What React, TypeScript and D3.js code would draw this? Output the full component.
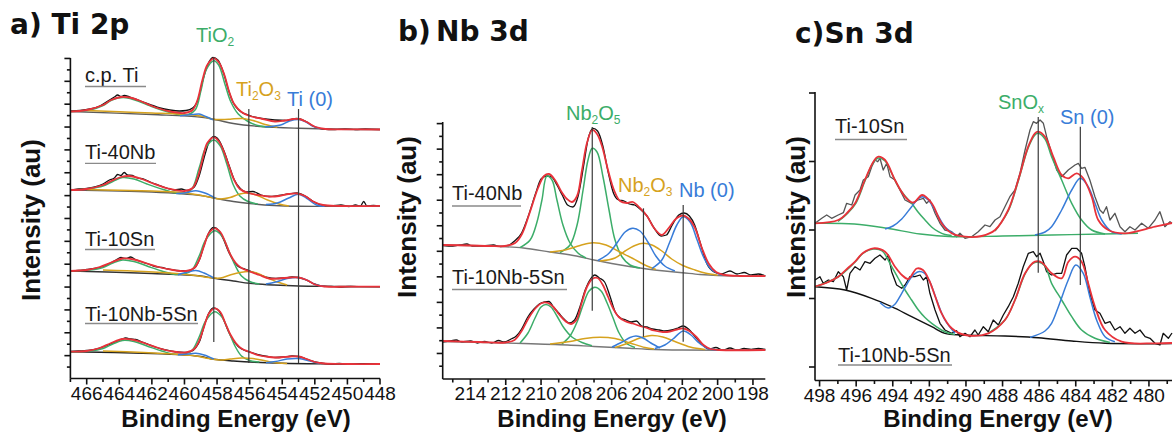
import React from "react";
import * as d3 from "d3";

type Pt = [number, number]; // [binding energy (eV), intensity (au)]

// ---------- a) Ti 2p ----------
const tiSamples = ["c.p. Ti", "Ti-40Nb", "Ti-10Sn", "Ti-10Nb-5Sn"];
const tiPeaks = [
  { name: "TiO_2", ev: 458.2, from: 36.5, to: 321 },
  { name: "Ti_2O_3", ev: 456.05, from: 15.5, to: 269.5 },
  { name: "Ti (0)", ev: 453.0, from: 15.5, to: 269.5 },
];
const tiTickLabels = [466, 464, 462, 460, 458, 456, 454, 452, 450, 448];

const tiCpRaw: Pt[] = [[467,267.5],[466.4,268],[465.8,269.5],[465.2,272.5],[464.7,277.5],[464.3,281.5],[464.1,283.5],[463.9,282],[463.7,283],[463.35,281.5],[462.7,277.5],[462.1,274],[461.5,270.5],[460.9,268.5],[460.3,267.5],[459.9,268],[459.5,270.5],[459.15,279.5],[458.85,299.5],[458.55,314.5],[458.25,321],[457.95,318.5],[457.6,305.5],[457.3,288.5],[457,275.5],[456.6,267.5],[456,263],[455.25,260],[454.45,258.5],[453.75,258],[453.1,260],[452.6,257.5],[452.05,252],[451.55,249.5],[450.75,249],[450.15,249.7],[449.5,249],[448.9,249.5],[448,249]];
const tiCpFit: Pt[] = [[467,267],[466,268.5],[465,273.5],[464.5,278.5],[463.9,281.5],[463.35,281],[462.7,277.5],[462,272.5],[461,267.5],[460,265.5],[459.5,268.5],[459.2,278.5],[458.9,298.5],[458.6,313.5],[458.2,320.2],[457.9,316.5],[457.55,303.5],[457.25,286.5],[456.95,274.5],[456.5,266.5],[456,262.5],[455.2,259.5],[454.45,257],[453.85,258],[453.3,259.5],[452.95,259.5],[452.5,256.5],[451.95,251.5],[451.35,249.5],[450.45,249.2],[448,249]];
const tiCpBg: Pt[] = [[467,267],[462,264],[459.05,261.5],[458,258.5],[457,255],[455.35,252],[453,250.2],[450.45,249.2],[448,249]];
const tiCpTiO2: Pt[] = [[467,267],[465.8,268.5],[465,273],[464.45,278.5],[463.75,281],[463.05,278.5],[462.25,273.5],[461.2,267.5],[459.97,263.3],[459.35,268.5],[458.98,288.5],[458.67,308.5],[458.2,317.8],[457.9,313.5],[457.5,293.5],[457.15,276.5],[456.7,264.5],[456.1,257],[455.5,253],[454.75,251.5]];
const tiCpTi2O3: Pt[] = [[466,268],[464,266.8],[462,265.5],[460,264],[459,262.5],[458.2,259.2],[457.7,259],[457.2,259.3],[456.45,260],[455.8,258],[455.05,254],[454.3,251.2]];
const tiCpTi0a: Pt[] = [[460.27,262.8],[459.5,264],[459.1,264.5],[458.7,262],[458.25,258.8]];
const tiCpTi0b: Pt[] = [[455.05,251.8],[454.1,253.5],[453.55,257.5],[453,259],[452.6,257],[452.15,252.5],[451.65,250]];

const tiNbRaw: Pt[] = [[467,188],[466.5,189.5],[466,190],[465.5,191.5],[465,194.5],[464.6,198.5],[464.3,200.5],[464.1,204],[463.9,203],[463.7,206],[463.5,203.5],[463.2,203],[462.9,200.5],[462.5,199.5],[462.1,196.5],[461.6,193.5],[461.1,190.5],[460.6,188.5],[460.2,189.5],[459.8,188],[459.4,191.5],[459.1,202.5],[458.8,220.5],[458.5,236],[458.2,242],[457.9,238.5],[457.55,226.5],[457.25,212.5],[456.95,199],[456.6,190.5],[456.2,186.5],[455.8,187],[455.3,183.5],[454.8,182],[454.2,183],[453.6,184.5],[453.1,185.5],[452.6,182.5],[452.1,177],[451.5,173],[451,172.5],[450.4,173.5],[449.9,172],[449.5,173.5],[449.2,172.5],[449,177],[448.8,172.5],[448.4,173],[448,172.5]];
const tiNbFit: Pt[] = [[467,188.5],[466,189.5],[465,193.5],[464.5,197.5],[463.9,201.5],[463.4,202.5],[462.7,200],[462,195.5],[461,190],[460,187.5],[459.5,190.5],[459.2,200.5],[458.9,218.5],[458.6,235.5],[458.2,241.2],[457.9,237.5],[457.55,225.5],[457.25,211.5],[456.95,198.5],[456.6,189.5],[456.1,185.5],[455.5,183.5],[454.8,182],[454.2,182.5],[453.6,184.5],[453.1,185],[452.6,182.5],[452.1,177],[451.5,173.5],[450.5,172.5],[448,172.7]];
const tiNbBg: Pt[] = [[467,188.5],[462,186.5],[459,183],[458.2,180.5],[457,177],[456,175],[454.5,173],[453,172.2],[450,172.2],[448,172.3]];
const tiNbTiO2: Pt[] = [[467,188.5],[465.8,190],[465,192.5],[464.4,197],[463.8,201],[463.1,199.5],[462.3,194.5],[461.3,189],[460.3,185],[459.6,188.5],[459.1,210.5],[458.7,230.5],[458.2,238.5],[457.8,232.5],[457.4,214.5],[457,193.5],[456.6,182.5],[456.1,177],[455.5,174.5]];
const tiNbTi2O3: Pt[] = [[466,189],[464,188.2],[462,187.5],[460.5,186.5],[459.3,184],[458.5,181.5],[457.8,179.5],[457.2,181],[456.6,184.5],[456.1,185.5],[455.6,183.5],[454.9,178.5],[454.2,174.5],[453.6,172.6]];
const tiNbTi0a: Pt[] = [[460.5,185],[459.9,185.8],[459.3,187.8],[458.7,185.2],[458.1,180.2]];
const tiNbTi0b: Pt[] = [[455,174],[454.3,175.5],[453.6,180.5],[453,184.2],[452.5,180.2],[451.9,173.5],[451.4,172.2]];

const tiSnRaw: Pt[] = [[467,107.5],[466.5,108],[466,109],[465.5,110],[465,112],[464.6,115],[464.2,118.5],[463.9,121],[463.6,120],[463.3,121.5],[463,119],[462.6,116.5],[462.2,114.5],[461.8,112],[461.4,111],[461,109.5],[460.5,108],[460,107.5],[459.6,108.5],[459.3,112],[459.05,120],[458.8,133],[458.5,146],[458.2,151],[457.9,148],[457.6,139],[457.3,127],[457,118],[456.7,112],[456.3,109.5],[455.9,107],[455.4,104],[454.9,101],[454.4,100],[453.9,100.5],[453.4,101.5],[453,101],[452.6,99],[452.1,95],[451.6,92.5],[451,92],[450.5,91.5],[449.8,92],[449,91.8],[448,91.8]];
const tiSnFit: Pt[] = [[467,107.5],[466,108.5],[465.2,111.5],[464.5,116],[463.8,120],[463.1,119],[462.4,115.5],[461.6,111.5],[460.7,108.5],[459.9,107.5],[459.4,110.5],[459.1,118.5],[458.8,132.5],[458.5,145.5],[458.15,150.2],[457.8,146.5],[457.5,136.5],[457.2,124.5],[456.85,115.5],[456.5,110.5],[456,107],[455.4,103.5],[454.8,100],[454.2,100],[453.5,101],[453,101],[452.5,98.5],[452,94],[451.4,92],[450,91.8],[448,91.8]];
const tiSnBg: Pt[] = [[467,107.5],[462,105],[459,102.5],[458.2,100.2],[457,97.5],[456,95.2],[454.5,93.5],[453,92.5],[450,92],[448,91.8]];
const tiSnTiO2: Pt[] = [[467,107.5],[465.8,108.5],[465,111],[464.4,115.5],[463.8,118.5],[463.1,117],[462.3,112.5],[461.4,107.5],[460.4,104],[459.6,107.5],[459.1,122.5],[458.7,138.5],[458.15,147.8],[457.7,142.5],[457.3,128.5],[456.9,113.5],[456.5,102.5],[456,97],[455.4,94.5]];
const tiSnTi2O3: Pt[] = [[465,108.5],[462.5,107],[460.5,105],[459.3,103],[458.5,101],[457.8,100.5],[457.2,103.5],[456.6,106],[456,107],[455.5,105],[454.9,100.5],[454.3,96.5],[453.7,93.5]];
const tiSnTi0a: Pt[] = [[460.4,103.8],[459.8,106.5],[459.3,108],[458.8,105.5],[458.2,100.5]];
const tiSnTi0b: Pt[] = [[455,94.5],[454.4,96.5],[453.7,100],[453,101],[452.5,98.5],[451.9,93.5],[451.4,92.1]];

const tiNbSnRaw: Pt[] = [[467,27],[466.5,27.5],[466,28],[465.5,29],[465,31.5],[464.6,34],[464.2,37],[463.9,39],[463.6,40.5],[463.3,39.5],[463,39],[462.6,36.5],[462.2,34],[461.8,31.5],[461.4,29.5],[461,28],[460.5,26.5],[460,26],[459.6,27],[459.3,31],[459.05,38],[458.8,52],[458.5,65.5],[458.2,70.5],[457.9,68],[457.6,59],[457.3,47],[457,38],[456.7,32],[456.3,28],[455.9,26],[455.4,23.5],[454.9,22],[454.4,21],[453.9,21.5],[453.4,22.5],[453,22],[452.6,20],[452.1,17],[451.6,15.5],[451,14.5],[450.5,15],[449.8,14.3],[449,14.8],[448,14.5]];
const tiNbSnFit: Pt[] = [[467,26.8],[466,27.5],[465.2,30.5],[464.5,35.5],[463.8,39.5],[463.1,38.5],[462.4,35],[461.6,30.5],[460.7,27],[459.9,26],[459.4,29.5],[459.1,37.5],[458.8,51.5],[458.5,65],[458.15,70.2],[457.8,66.5],[457.5,55.5],[457.2,44.5],[456.85,35.5],[456.5,30],[456,26.5],[455.4,23],[454.8,21.5],[454.2,21],[453.5,22],[453,22],[452.5,19.5],[452,16.5],[451.4,15],[450,14.5],[448,14.5]];
const tiNbSnBg: Pt[] = [[467,26.8],[462,25],[460,23.5],[459,22],[458.2,19.2],[457,17.5],[454,15.2],[451,14.5],[448,14.2]];
const tiNbSnTiO2: Pt[] = [[467,26.8],[465.8,27.5],[465,30],[464.4,34.5],[463.8,38],[463.1,37],[462.3,32.5],[461.4,27.5],[460.4,24],[459.6,27],[459.1,41.5],[458.7,57.5],[458.15,66.8],[457.7,61.5],[457.3,47.5],[456.9,32.5],[456.5,22.5],[456,18],[455.4,16.4]];
const tiNbSnTi2O3: Pt[] = [[465,27.5],[462.5,26],[460.5,24.2],[459.3,22.5],[458.5,20],[457.8,18.5],[457.2,19.5],[456.5,20.5],[455.8,20],[455,17.5],[454.3,15.5],[453.7,15]];
const tiNbSnTi0a: Pt[] = [[460.4,23.8],[459.8,24.5],[459.3,25.2],[458.8,23.5],[458.2,19.5]];
const tiNbSnTi0b: Pt[] = [[455,15.7],[454.4,17],[453.7,19.5],[453,20],[452.3,17.5],[451.7,15]];

// ---------- b) Nb 3d ----------
const nbSamples = ["Ti-40Nb", "Ti-10Nb-5Sn"];
const nbPeaks = [
  { name: "Nb_2O_5", ev: 207.1, from: 68.3, to: 252 },
  { name: "Nb_2O_3", ev: 204.2, from: 42.3, to: 170.7 },
  { name: "Nb (0)", ev: 201.95, from: 37.3, to: 174 },
];
const nbTickLabels = [214, 212, 210, 208, 206, 204, 202, 200, 198];

const nbRaw: Pt[] = [[215.57,133.5],[215,133],[214.6,134],[214.2,135],[213.9,133],[213.3,133],[212.7,134],[212.3,132.5],[211.8,134],[211.5,138],[211.1,146],[210.7,164],[210.3,186],[210,200],[209.7,203],[209.4,202],[209.1,194],[208.8,184],[208.5,174],[208.2,172],[207.9,183],[207.6,212],[207.35,239],[207.05,250.7],[206.8,248],[206.5,233],[206.2,207],[205.9,186],[205.6,179],[205.3,178],[205,175],[204.7,174],[204.4,170],[204,163],[203.6,151],[203.2,143],[202.9,144],[202.6,153],[202.2,164],[201.9,166],[201.6,163],[201.3,154],[201,137],[200.6,115],[200.2,107],[199.8,105],[199.3,108],[198.9,105],[198.5,106.5],[198.1,104],[197.7,105],[197.3,103]];
const nbFit: Pt[] = [[215.57,134],[214.02,133.5],[212.89,133],[212.04,133],[211.47,136],[211.08,145],[210.63,167],[210.17,191],[209.83,203],[209.55,205],[209.21,199],[208.87,188],[208.53,180],[208.25,177],[207.96,183],[207.68,209],[207.4,236],[207.1,249],[206.83,245],[206.55,233],[206.21,209],[205.87,189],[205.53,178],[205.14,176],[204.8,177],[204.4,171],[204,163],[203.6,151],[203.16,144],[202.77,151],[202.37,160],[201.97,163.5],[201.62,160],[201.28,151],[200.89,131],[200.49,115],[200.09,107],[199.58,104],[198.74,103],[197.3,103]];
const nbBg: Pt[] = [[215.57,134],[213,133],[211,131],[209.5,127],[208,123],[207,119],[206,115.5],[205,112.5],[204,110],[203,108],[202,106.3],[201,104.5],[200,103.5],[197.3,103]];
const nbO5a: Pt[] = [[211.2,131.3],[210.62,139],[210.23,157],[209.95,179],[209.67,203],[209.38,199],[209.1,179],[208.76,154],[208.36,136],[207.91,126],[207.46,121]];
const nbO5b: Pt[] = [[208.93,126.5],[208.36,134],[207.96,154],[207.62,189],[207.34,219],[207.1,230.7],[206.83,227],[206.49,202],[206.15,169],[205.81,139],[205.41,122],[204.96,114],[204.4,111]];
const nbO3a: Pt[] = [[209.49,127],[208.64,129],[207.79,133.5],[207.06,136.3],[206.32,134],[205.53,127],[204.8,120.5],[204.12,114],[203.5,109.5]];
const nbO3b: Pt[] = [[206.66,118],[205.81,121],[205.24,128],[204.68,133.5],[204.21,135.7],[203.72,134],[203.16,128],[202.6,120],[201.97,113.5],[201.28,109],[200.72,106],[200,103.8]];
const nb0a: Pt[] = [[206.78,118.5],[206.2,125],[205.7,136],[205.24,147],[204.81,150.7],[204.4,148],[203.95,137],[203.5,123],[202.99,113],[202.42,108]];
const nb0b: Pt[] = [[203.72,110.5],[203.16,119],[202.71,137],[202.31,154],[201.95,162.3],[201.56,157],[201.16,139],[200.77,121],[200.32,109],[199.75,104]];

const nbSnRaw: Pt[] = [[215.57,37],[215.2,38],[214.8,39],[214.5,37],[214,38],[213.6,36],[213.2,37.5],[212.8,36],[212.4,38.5],[212.1,37],[211.7,40],[211.4,43],[211.1,50],[210.75,62],[210.4,70],[210.1,75],[209.8,77],[209.55,77.5],[209.3,72],[209,66],[208.7,60],[208.4,56],[208.1,59],[207.8,72],[207.5,89],[207.2,100],[206.95,104],[206.7,101],[206.4,97],[206.1,83],[205.8,67],[205.5,61],[205.2,59],[204.9,57],[204.6,58],[204.3,53],[204,52],[203.7,50],[203.3,49],[203,48],[202.6,49],[202.25,51],[201.95,53],[201.65,50],[201.3,43],[200.9,35],[200.5,30],[200.1,31.5],[199.7,29],[199.3,31],[198.9,29],[198.5,30.5],[198.1,29.5],[197.7,30.5],[197.3,29.5]];
const nbSnFit: Pt[] = [[215.57,38],[213.5,37],[212,36.5],[211.5,39],[211.1,48],[210.7,61],[210.3,71],[209.95,76],[209.6,76],[209.3,72],[208.95,64],[208.6,57.5],[208.3,55],[208,59],[207.7,76],[207.4,92],[207.1,100],[206.8,101],[206.5,94],[206.2,82],[205.9,70],[205.6,62],[205.2,57.5],[204.8,55.5],[204.4,53],[204,51],[203.6,48.5],[203.1,47],[202.7,47.5],[202.3,49.5],[201.95,50.5],[201.6,48],[201.2,42],[200.8,34],[200.4,30],[199.9,29],[197.3,29]];
const nbSnBg: Pt[] = [[215.57,37.5],[211,35.5],[208.5,34],[207,32.5],[205,30.7],[204,29.8],[202,29],[197.3,28.7]];
const nbSnO5a: Pt[] = [[211.19,36],[210.74,46],[210.34,61],[210,72],[209.72,74.5],[209.44,72],[209.1,63],[208.7,51],[208.25,42],[207.68,36.5],[207.12,33.2]];
const nbSnO5b: Pt[] = [[208.82,35],[208.36,43],[207.96,57],[207.62,74],[207.28,88],[206.95,91.7],[206.6,88],[206.26,76],[205.92,61],[205.58,46],[205.19,36],[204.68,31.5]];
const nbSnO3a: Pt[] = [[209.49,35],[208.36,37.5],[207.51,40.5],[206.66,41.7],[205.81,40.5],[204.96,36],[204.12,31.5],[203.6,30]];
const nbSnO3b: Pt[] = [[205.81,31.5],[205.07,36],[204.4,41],[203.73,43.5],[203.1,42],[202.42,37.5],[201.56,32],[200.72,29.5]];
const nbSn0a: Pt[] = [[205.98,32],[205.41,37],[204.96,41.5],[204.62,43],[204.23,41],[203.78,36],[203.27,31]];
const nbSn0b: Pt[] = [[203.55,30.5],[202.99,34],[202.53,40],[201.95,48],[201.51,44],[201.12,37],[200.61,31],[200.04,29]];

// ---------- c) Sn 3d ----------
const snSamples = ["Ti-10Sn", "Ti-10Nb-5Sn"];
const snPeaks = [
  { name: "SnO_x", ev: 486.05, from: 107.8, to: 263.5 },
  { name: "Sn (0)", ev: 483.75, from: 95.5, to: 253.8 },
];
const snTickLabels = [498, 496, 494, 492, 490, 488, 486, 484, 482, 480];

const snRaw: Pt[] = [[498.25,157.2],[497.88,162.2],[497.61,165.5],[497.34,162.2],[496.98,165.5],[496.7,167.8],[496.52,177.2],[496.24,175.5],[496.06,185.5],[495.79,190.5],[495.61,200.5],[495.34,203.8],[495.15,213.8],[494.97,220.5],[494.82,218.8],[494.7,222.2],[494.52,210.5],[494.33,217.2],[494.15,203.8],[493.88,200.5],[493.61,190.5],[493.33,180.5],[492.97,177.2],[492.61,180.5],[492.33,182.2],[492.15,177.2],[491.97,180.5],[491.69,167.2],[491.42,157.2],[491.15,150.5],[490.78,148.8],[490.51,143.8],[490.33,147.2],[490.05,142.2],[489.69,143.8],[489.33,148.8],[488.96,155.5],[488.69,153.8],[488.41,160.5],[488.14,163.8],[487.87,173.8],[487.6,183.8],[487.32,190.5],[487.05,207.2],[486.77,230.5],[486.5,250.5],[486.32,258.8],[486.14,257.2],[485.95,260.5],[485.77,257.2],[485.59,243.8],[485.32,227.2],[485.04,210.5],[484.77,203.8],[484.41,210.5],[484.04,215.5],[483.86,217.2],[483.68,212.2],[483.5,213.2],[483.23,200.5],[482.95,183.8],[482.68,170.5],[482.5,167.2],[482.32,173.8],[482.13,160.5],[481.86,167.2],[481.58,153.8],[481.31,148.8],[481.04,153.8],[480.76,150.5],[480.4,157.2],[480.04,152.2],[479.67,160.5],[479.4,168.8],[479.13,153.8],[478.85,158.8],[478.74,157.2]];
const snFit: Pt[] = [[498.25,157.2],[496.98,160.5],[496.45,168.5],[496.06,177.2],[495.52,200.5],[495.06,218.8],[494.79,223.8],[494.42,220.5],[493.88,200.5],[493.33,183.8],[492.88,177.8],[492.39,185.5],[491.87,177.2],[491.33,157.2],[490.78,147.2],[490.05,143.8],[489.14,144.5],[488.41,150.5],[487.69,170.5],[487.14,200.5],[486.6,233.8],[486.23,247.2],[486.05,248.8],[485.68,243.8],[485.23,223.8],[484.77,205.5],[484.41,202.2],[483.95,207.2],[483.59,202.2],[483.13,183.8],[482.77,160.5],[482.22,150.5],[481.31,147.2],[479.67,153.8],[478.74,157.5]];
const snBg: Pt[] = [[498.25,157.2],[496.1,156.5],[494.3,152.2],[492.5,146.5],[490.7,143.8],[488,144.5],[485.3,145.5],[482.5,146.5],[480.6,147.2]];
const snOxa: Pt[] = [[496.99,159],[496.45,167.5],[496.01,177.5],[495.52,199.5],[495.08,217.5],[494.79,222.5],[494.42,219.5],[494.04,206.5],[493.7,193.8],[493.33,184.5],[492.97,177.2],[492.62,168.5],[492.24,160.5],[491.88,153.5],[491.51,148.8],[491.15,146],[490.78,145]];
const snOxb: Pt[] = [[488.41,149.5],[487.69,169.5],[487.14,199.5],[486.6,232.5],[486.23,245.5],[486.05,247.2],[485.68,241.5],[485.32,223.8],[484.77,200.5],[484.22,177.2],[483.68,160.5],[483.13,150.5],[482.4,146.5]];
const sn0a: Pt[] = [[494.42,151.5],[493.99,154.5],[493.51,161.5],[492.97,173.8],[492.62,181.5],[492.39,183.8],[492.06,180.5],[491.6,167.2],[491.15,153.8],[490.6,146]];
const sn0b: Pt[] = [[486.23,145.5],[485.68,148.5],[485.32,153.8],[484.77,170.5],[484.22,190.5],[483.75,202.2],[483.32,193.8],[482.95,177.2],[482.58,160.5],[482.04,148.8],[481.49,146.5]];

const nbSnSnRaw: Pt[] = [[498.25,100.5],[497.98,103.8],[497.8,97.2],[497.52,100.5],[497.25,98.8],[496.98,108.8],[496.7,103.8],[496.52,90.5],[496.34,107.2],[496.06,113.8],[495.79,110.5],[495.52,118.8],[495.24,117.2],[494.97,122.2],[494.7,125.5],[494.42,120.5],[494.24,125.5],[494.06,108.8],[493.79,95.5],[493.51,92.2],[493.33,95.5],[493.06,103.8],[492.79,103.8],[492.51,105.5],[492.33,100.5],[492.15,103.8],[491.97,87.2],[491.69,70.5],[491.42,57.2],[491.15,50.5],[490.78,47.2],[490.51,49.8],[490.33,43.8],[490.05,47.2],[489.78,43.8],[489.51,50.5],[489.33,45.5],[489.05,53.8],[488.78,48.8],[488.51,60.5],[488.23,55.5],[487.96,65.5],[487.69,73.8],[487.41,83.8],[487.14,97.2],[486.87,113.8],[486.59,127.2],[486.32,128.8],[486.14,123.8],[485.95,127.2],[485.77,118.8],[485.59,108.8],[485.32,105.5],[485.04,107.2],[484.77,107.2],[484.5,125.5],[484.22,132.2],[483.95,132.2],[483.68,127.2],[483.5,113.8],[483.23,87.2],[482.95,70.5],[482.68,67.2],[482.4,57.2],[482.13,58.8],[481.86,50.5],[481.58,53.8],[481.31,47.2],[481.04,52.2],[480.76,47.2],[480.49,50.5],[480.21,43.8],[479.94,42.2],[479.67,37.2],[479.4,35.5],[479.22,47.2],[478.94,42.2],[478.74,47.5]];
const nbSnSnFit: Pt[] = [[498.25,94],[497.65,97.5],[496.98,103.8],[496.45,112.5],[496.06,118.8],[495.63,127.5],[495.06,132.2],[494.42,128.8],[493.88,113.8],[493.5,105.5],[493.15,101.5],[492.69,112],[492.35,110.5],[492.02,100.5],[491.69,84.5],[491.33,67.2],[490.78,52.2],[490.05,45.5],[488.78,47.2],[487.87,60.5],[487.32,80.5],[486.77,107.2],[486.23,118.8],[485.86,118],[485.32,107.2],[484.77,102.2],[484.41,118.5],[484.04,123.8],[483.68,118.8],[483.32,97.2],[482.95,73.8],[482.4,50.5],[481.49,38.8],[479.67,37.2],[478.74,37.5]];
const nbSnSnBg: Pt[] = [[498.25,93.8],[496.61,90.5],[495.15,82.2],[494.06,73.8],[492.97,63.8],[491.87,53.8],[491.15,47.2],[490.23,45.5],[487.87,44.5],[486.05,42.8],[484.22,39.5],[482.4,37.2],[478.74,37]];
const nbSnSnOxa: Pt[] = [[498.25,93.8],[496.99,103.5],[496.06,118.5],[495.63,127],[495.06,131.5],[494.58,129.5],[494.06,113.8],[493.71,102.5],[493.33,90.5],[492.97,80.5],[492.6,70.5],[492.24,63],[491.87,57.2],[491.15,48.8],[490.6,46]];
const nbSnSnOxb: Pt[] = [[488.8,47],[487.87,60.5],[487.32,80.5],[486.77,106.5],[486.39,116.5],[486.05,118.5],[485.68,114.5],[485.32,97.2],[484.77,80.5],[484.22,63.8],[483.68,50.5],[482.95,42.2],[482.13,38]];
const nbSnSn0a: Pt[] = [[494.7,78],[494.24,72.5],[493.9,76],[493.51,87.2],[492.97,103.5],[492.6,108.8],[492.29,107.5],[491.97,98.5],[491.6,80.5],[491.15,60.5],[490.6,47.2]];
const nbSnSn0b: Pt[] = [[486.5,43],[485.68,49.5],[485.32,57.2],[484.95,73.8],[484.41,100.5],[484,115.5],[483.59,107.2],[483.23,83.8],[482.86,60.5],[482.4,43.8],[481.86,38.8]];

// ---------- styling ----------
const GREEN = "#3cad69";
const YELLOW = "#d6a21e";
const BLUE = "#387cd8";
const RED = "#e8323a";
const FONT = "'Liberation Sans', Arial, Helvetica, sans-serif";
const TITLE_FONT = "'DejaVu Sans', sans-serif";

const comps = (o2: Pt[][], o3: Pt[][] | null, m0: Pt[][]) => [
  { segs: o2, color: GREEN },
  ...(o3 ? [{ segs: o3, color: YELLOW }] : []),
  { segs: m0, color: BLUE },
];

const panels = [
  {
    key: "a",
    xDomain: [467, 448], xRange: [70.4, 380],
    yDomain: [0, 320.5], yRange: [378.5, 58],
    xTicks: d3.range(448, 468), xLabels: tiTickLabels,
    yTicks: d3.range(1, 29).map((k) => k * 11.43), yAlt: true,
    titles: [{ text: "a) Ti 2p", x: 10, y: 33.5 }],
    yLab: { x: 40, y: 220 }, xLab: { x: 236, y: 427 },
    rawCurve: d3.curveMonotoneX,
    spectra: [
      { raw: tiCpRaw, rawColor: "#111", fit: tiCpFit, bg: tiCpBg, bgColor: "#5c5c5c", comps: comps([tiCpTiO2], [tiCpTi2O3], [tiCpTi0a, tiCpTi0b]) },
      { raw: tiNbRaw, rawColor: "#111", fit: tiNbFit, bg: tiNbBg, bgColor: "#5c5c5c", comps: comps([tiNbTiO2], [tiNbTi2O3], [tiNbTi0a, tiNbTi0b]) },
      { raw: tiSnRaw, rawColor: "#111", fit: tiSnFit, bg: tiSnBg, bgColor: "#333", comps: comps([tiSnTiO2], [tiSnTi2O3], [tiSnTi0a, tiSnTi0b]) },
      { raw: tiNbSnRaw, rawColor: "#111", fit: tiNbSnFit, bg: tiNbSnBg, bgColor: "#222", comps: comps([tiNbSnTiO2], [tiNbSnTi2O3], [tiNbSnTi0a, tiNbSnTi0b]) },
    ],
    samples: tiSamples,
    sampleLayout: [
      { x: 85, y: 81.5, uy: 86.5, ux: 146 },
      { x: 85, y: 158.5, uy: 163.3, ux: 156 },
      { x: 85, y: 245.5, uy: 249.5, ux: 155 },
      { x: 85, y: 321, uy: 323.5, ux: 198 },
    ],
    peaks: tiPeaks,
    peakColors: [GREEN, YELLOW, BLUE],
    peakLayout: [{ x: 196, y: 42 }, { x: 236, y: 96 }, { x: 287, y: 106 }],
  },
  {
    key: "b",
    xDomain: [215.57, 197.3], xRange: [442.7, 765.3],
    yDomain: [0, 257], yRange: [379, 122],
    xTicks: d3.range(198, 216), xLabels: nbTickLabels,
    yTicks: d3.range(1, 21).map((k) => k * 12.77), yAlt: true,
    titles: [{ text: "b)", x: 398, y: 41 }, { text: "Nb 3d", x: 436, y: 41 }],
    yLab: { x: 416, y: 217 }, xLab: { x: 612, y: 427 },
    rawCurve: d3.curveMonotoneX,
    spectra: [
      { raw: nbRaw, rawColor: "#111", fit: nbFit, bg: nbBg, bgColor: "#777", comps: comps([nbO5a, nbO5b], [nbO3a, nbO3b], [nb0a, nb0b]) },
      { raw: nbSnRaw, rawColor: "#111", fit: nbSnFit, bg: nbSnBg, bgColor: "#777", comps: comps([nbSnO5a, nbSnO5b], [nbSnO3a, nbSnO3b], [nbSn0a, nbSn0b]) },
    ],
    samples: nbSamples,
    sampleLayout: [
      { x: 452, y: 200, uy: 206, ux: 521 },
      { x: 452, y: 284, uy: 289.5, ux: 567 },
    ],
    peaks: nbPeaks,
    peakColors: [GREEN, YELLOW, BLUE],
    peakLayout: [{ x: 566, y: 120 }, { x: 618, y: 192 }, { x: 679, y: 197 }],
  },
  {
    key: "c",
    xDomain: [498.25, 478.74], xRange: [815, 1172],
    yDomain: [0, 288.5], yRange: [380.5, 92],
    xTicks: d3.range(479, 499), xLabels: snTickLabels,
    yTicks: d3.range(0, 5).map((k) => 13.5 + k * 68.5), yAlt: false,
    titles: [{ text: "c)Sn 3d", x: 795, y: 43 }],
    yLab: { x: 805, y: 217 }, xLab: { x: 998, y: 427 },
    rawCurve: d3.curveLinear,
    spectra: [
      { raw: snRaw, rawColor: "#555", fit: snFit, bg: snBg, bgColor: GREEN, comps: comps([snOxa, snOxb], null, [sn0a, sn0b]) },
      { raw: nbSnSnRaw, rawColor: "#111", fit: nbSnSnFit, bg: nbSnSnBg, bgColor: "#111", comps: comps([nbSnSnOxa, nbSnSnOxb], null, [nbSnSn0a, nbSnSn0b]) },
    ],
    samples: snSamples,
    sampleLayout: [
      { x: 835, y: 133, uy: 139.5, ux: 907 },
      { x: 838, y: 361.5, uy: 365, ux: 952 },
    ],
    peaks: snPeaks,
    peakColors: [GREEN, BLUE],
    peakLayout: [{ x: 998, y: 109 }, { x: 1060, y: 124 }],
  },
];

// "_" marks the next character as a subscript
function chem(name: string) {
  const parts: { t: string; sub: boolean }[] = [];
  for (let i = 0; i < name.length; i++) {
    if (name[i] === "_") {
      parts.push({ t: name[i + 1], sub: true });
      i++;
    } else if (parts.length && !parts[parts.length - 1].sub) {
      parts[parts.length - 1].t += name[i];
    } else {
      parts.push({ t: name[i], sub: false });
    }
  }
  return parts;
}

function Panel({ p }: { p: any }) {
  const x = d3.scaleLinear().domain(p.xDomain).range(p.xRange);
  const y = d3.scaleLinear().domain(p.yDomain).range(p.yRange);
  const smooth = d3.line<Pt>().x((d) => x(d[0])).y((d) => y(d[1])).curve(d3.curveCatmullRom.alpha(0.5));
  const raw = d3.line<Pt>().x((d) => x(d[0])).y((d) => y(d[1])).curve(p.rawCurve);
  const [x0, x1] = p.xRange;
  const yb = p.yRange[0];
  const yt = p.yRange[1];

  return (
    <g>
      {/* spectra */}
      {p.spectra.map((s: any, i: number) => (
        <g key={i} fill="none" strokeLinejoin="round">
          <path d={raw(s.raw) || ""} stroke={s.rawColor} strokeWidth={1.3} />
          <path d={smooth(s.bg) || ""} stroke={s.bgColor} strokeWidth={1.4} />
          {s.comps.map((c: any, j: number) =>
            c.segs.map((seg: Pt[], k: number) => (
              <path key={j + "-" + k} d={smooth(seg) || ""} stroke={c.color} strokeWidth={1.5} />
            ))
          )}
          <path d={smooth(s.fit) || ""} stroke={RED} strokeWidth={1.8} />
        </g>
      ))}

      {/* peak reference lines */}
      {p.peaks.map((pk: any) => (
        <line key={pk.name} x1={x(pk.ev)} x2={x(pk.ev)} y1={y(pk.from)} y2={y(pk.to)} stroke="#3a3a3a" strokeWidth={1.2} />
      ))}

      {/* peak labels */}
      {p.peaks.map((pk: any, i: number) => {
        const parts = chem(pk.name);
        return (
          <text key={pk.name} x={p.peakLayout[i].x} y={p.peakLayout[i].y} fill={p.peakColors[i]} fontFamily={FONT} fontSize={20}>
            {parts.map((pt, k) => (
              <tspan key={k} fontSize={pt.sub ? 12 : 20} dy={pt.sub ? 4 : k > 0 && parts[k - 1].sub ? -4 : 0}>
                {pt.t}
              </tspan>
            ))}
          </text>
        );
      })}

      {/* sample labels */}
      {p.samples.map((s: string, i: number) => {
        const l = p.sampleLayout[i];
        return (
          <g key={s}>
            <text x={l.x} y={l.y} fontFamily={FONT} fontSize={20} fill="#1a1a1a">{s}</text>
            <line x1={l.x} x2={l.ux} y1={l.uy} y2={l.uy} stroke="#8a8a8a" strokeWidth={1.3} />
          </g>
        );
      })}

      {/* axes */}
      <g stroke="#111" strokeWidth={1.6}>
        <line x1={x0} x2={x0} y1={yb} y2={yt} />
        <line x1={x0} x2={x1} y1={yb} y2={yb} />
        {p.yTicks.map((v: number, i: number) => {
          const len = p.yAlt ? (i % 2 === 1 ? 6 : 3.5) : 6;
          return <line key={"y" + i} x1={x0 - len} x2={x0} y1={y(v)} y2={y(v)} />;
        })}
        {p.xTicks.map((v: number) => (
          <line key={"x" + v} x1={x(v)} x2={x(v)} y1={yb} y2={yb + (v % 2 === 0 ? 6 : 3.5)} />
        ))}
      </g>
      {p.xLabels.map((v: number) => (
        <text key={"l" + v} x={x(v)} y={yb + 21} textAnchor="middle" fontFamily={FONT} fontSize={19} fill="#111">
          {v}
        </text>
      ))}

      {/* axis titles */}
      <text x={p.xLab.x} y={p.xLab.y} textAnchor="middle" fontFamily={FONT} fontWeight="bold" fontSize={24} fill="#111">
        Binding Energy (eV)
      </text>
      <text transform={`translate(${p.yLab.x},${p.yLab.y}) rotate(-90)`} textAnchor="middle" fontFamily={FONT} fontWeight="bold" fontSize={26} fill="#111">
        Intensity (au)
      </text>
      {p.titles.map((t: any) => (
        <text key={t.text} x={t.x} y={t.y} fontFamily={TITLE_FONT} fontWeight="bold" fontSize={28} fill="#111">
          {t.text}
        </text>
      ))}
    </g>
  );
}

export default function App() {
  return (
    <svg width={1175} height={438} style={{ position: "absolute", left: 0, top: 0, background: "#fff" }}>
      <rect width={1175} height={438} fill="#fff" />
      {panels.map((p) => (
        <Panel key={p.key} p={p} />
      ))}
    </svg>
  );
}
